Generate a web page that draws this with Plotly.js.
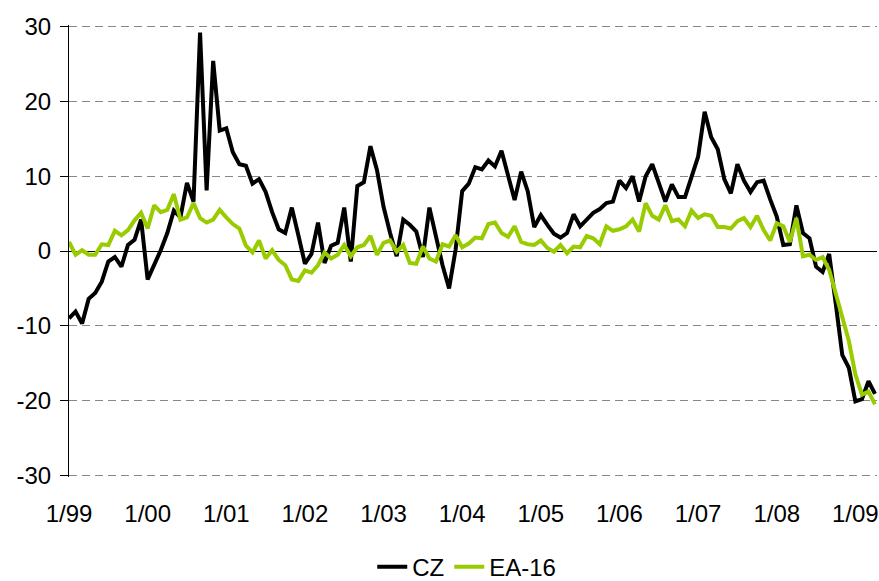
<!DOCTYPE html>
<html>
<head>
<meta charset="utf-8">
<script src="https://cdn.plot.ly/plotly-3.0.1.min.js"></script>
<style>html,body{margin:0;padding:0;background:#fff;}#chart{width:879px;height:581px;}</style>
</head>
<body>
<div id="chart"></div>
<script>
// Monthly data, Jan 1999 .. Apr 2009
var tickLabels = ["1/99","1/00","1/01","1/02","1/03","1/04","1/05","1/06","1/07","1/08","1/09"];
var yTickVals = [-30,-20,-10,0,10,20,30];
var yTickText = ["-30","-20","-10","0","10","20","30"];

var czValues = [
 -9.0,-8.1,-9.7,-6.4,-5.6,-4.1,-1.4,-0.8,-2.1,0.8,1.5,4.2,
 -3.8,-1.9,0.1,2.4,5.4,4.5,9.1,6.6,29.2,8.1,25.4,16.1,
 16.4,13.2,11.6,11.4,9.0,9.6,7.9,5.2,2.9,2.4,5.8,2.1,
 -1.7,-0.4,3.8,-1.6,0.7,1.1,5.8,-1.4,8.7,9.2,14.0,10.8,
 5.9,2.4,-0.7,4.2,3.5,2.6,-0.8,5.8,1.8,-1.9,-5.0,0.2,
 8.0,9.0,11.2,10.9,12.1,11.3,13.4,10.0,6.8,10.6,8.0,3.2,
 4.8,3.5,2.3,1.8,2.4,4.9,3.3,4.2,5.1,5.6,6.4,6.6,
 9.4,8.4,10.0,6.6,10.0,11.6,9.0,6.6,8.9,7.2,7.2,9.8,
 12.6,18.6,15.2,13.6,9.6,7.7,11.6,9.4,7.9,9.2,9.4,6.9,
 4.6,0.8,0.9,6.1,2.4,1.7,-2.1,-2.8,-0.4,-7.0,-13.9,-15.6,
 -20.1,-19.8,-17.4,-19.1
];

var eaValues = [
 1.2,-0.5,0.1,-0.5,-0.5,0.9,0.8,2.7,2.1,2.8,4.1,5.1,
 3.0,6.1,5.2,5.5,7.6,4.2,4.5,6.4,4.4,3.8,4.2,5.5,
 4.5,3.6,3.0,0.7,-0.2,1.4,-1.0,0.1,-1.2,-1.9,-3.8,-4.0,
 -2.6,-2.9,-1.9,-0.2,-1.0,-0.5,0.8,-0.7,0.5,0.8,2.0,-0.5,
 1.1,1.4,-0.1,0.8,-1.6,-1.7,0.6,-1.0,-1.4,0.9,0.6,2.1,
 0.5,1.0,1.8,1.7,3.6,3.8,2.4,1.9,3.3,1.2,0.9,0.8,
 1.4,0.4,-0.1,0.8,-0.3,0.6,0.5,2.0,1.7,0.9,3.3,2.7,
 2.9,3.3,4.2,2.6,6.4,4.7,4.2,6.1,4.0,4.2,3.3,5.4,
 4.4,4.9,4.7,3.2,3.2,3.0,4.0,4.4,3.2,4.7,2.8,1.4,
 3.7,3.3,1.2,4.4,-0.7,-0.5,-1.2,-0.8,-2.5,-5.6,-8.8,-12.0,
 -16.5,-19.2,-18.8,-20.5
];

var monthIndex = czValues.map(function(_, i){ return i; });
var tickVals = tickLabels.map(function(_, i){ return i * 12; });

var font = "Liberation Sans, Arial, sans-serif";

var traces = [
  {x: monthIndex, y: czValues, name: "CZ", type: "scatter", mode: "lines",
   line: {color: "#000000", width: 4}},
  {x: monthIndex, y: eaValues, name: "EA-16", type: "scatter", mode: "lines",
   line: {color: "#99CC00", width: 4}}
];

var layout = {
  width: 879, height: 581,
  margin: {l: 69, r: 2, t: 25, b: 104},
  paper_bgcolor: "#ffffff", plot_bgcolor: "#ffffff",
  font: {family: font, size: 24, color: "#000"},
  showlegend: true,
  legend: {orientation: "h", x: 0.531, xanchor: "center", xref: "container",
           y: 0.024, yanchor: "middle", yref: "container",
           font: {family: font, size: 24, color: "#000"}, bgcolor: "rgba(0,0,0,0)"},
  xaxis: {
    range: [0, 123.3], tickmode: "array", tickvals: tickVals, ticktext: tickLabels,
    showgrid: false, zeroline: false, showline: false, ticks: "",
    ticklabelstandoff: 20,
    tickfont: {family: font, size: 24, color: "#000"}, fixedrange: true
  },
  yaxis: {
    range: [-30.2, 30.2], tickmode: "array", tickvals: yTickVals, ticktext: yTickText,
    showgrid: true, gridcolor: "#888888", gridwidth: 1, griddash: "8px,5px",
    zeroline: true, zerolinecolor: "#000000", zerolinewidth: 1,
    showline: true, linecolor: "#000000", linewidth: 1,
    ticks: "outside", ticklen: 8, tickcolor: "#000000", tickwidth: 1,
    ticklabelstandoff: 4,
    tickfont: {family: font, size: 24, color: "#000"}, fixedrange: true
  }
};

Plotly.newPlot("chart", traces, layout, {displayModeBar: false, staticPlot: true});
</script>
</body>
</html>
